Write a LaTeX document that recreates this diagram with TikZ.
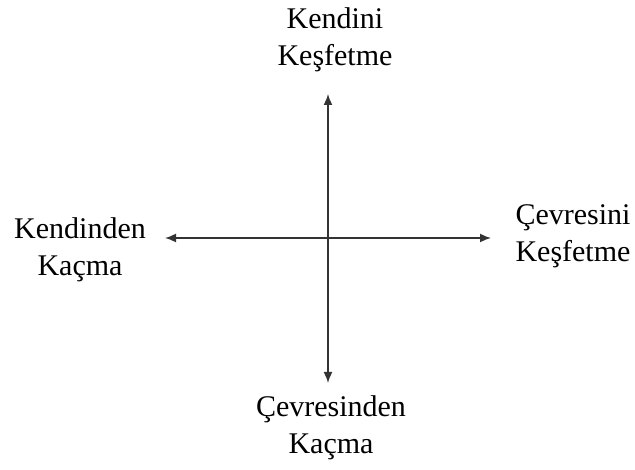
\documentclass[tikz,border=0pt]{standalone}
\usepackage{fontspec}
\setmainfont{Liberation Serif}
\usepackage{tikz}
\usetikzlibrary{arrows.meta,positioning}

\begin{document}
\begin{tikzpicture}[
  x=1pt, y=1pt,
  >={Latex[length=11pt,width=9pt]},
  polelabel/.style={align=center, inner sep=0pt, font=\fontsize{30}{37}\selectfont},
  axis/.style={<->, line width=1.6pt, black!80},
]
\useasboundingbox (0,0) rectangle (635,-470);

% centre and axis ends
\coordinate (O)  at (328,-238);
\coordinate (UP) at (328,-94);
\coordinate (DN) at (328,-383);
\coordinate (LT) at (165,-238);
\coordinate (RT) at (491,-238);

% labels
\node[polelabel] (KK) at (335,-40)  {Kendini\\Keşfetme};
\node[polelabel] (KC) at (80,-250)  {Kendinden\\Kaçma};
\node[polelabel] (CK) at (573,-236) {Çevresini\\Keşfetme};
\node[polelabel] (CC) at (331,-428) {Çevresinden\\Kaçma};

% --- arrows ---
\draw[axis] (DN) -- (UP);
\draw[axis] (LT) -- (RT);

\end{tikzpicture}
\end{document}
